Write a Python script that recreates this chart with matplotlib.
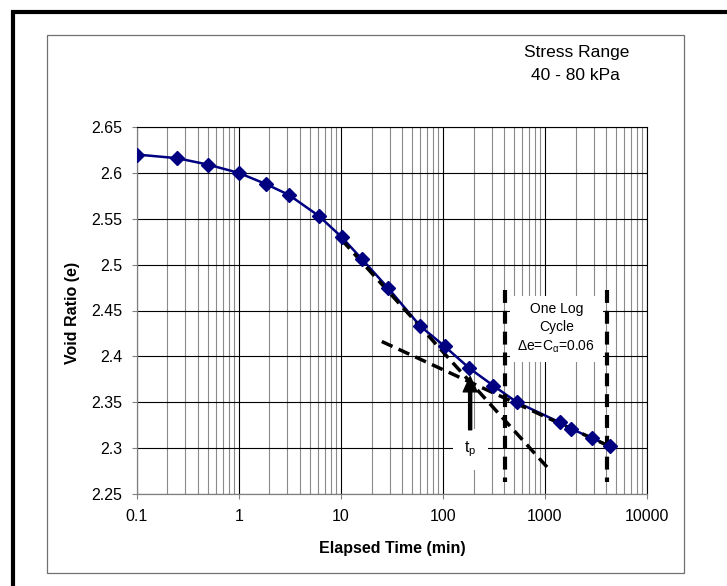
import numpy as np
import matplotlib
matplotlib.use("Agg")
from matplotlib import pyplot as plt
from matplotlib.patches import Rectangle
from matplotlib.ticker import LogLocator, NullFormatter, FixedLocator

plt.rcParams['font.family'] = ['Liberation Sans', 'DejaVu Sans']
plt.rcParams['mathtext.fontset'] = 'custom'
plt.rcParams['mathtext.rm'] = 'Liberation Sans'
plt.rcParams['mathtext.it'] = 'Liberation Sans'

# elapsed time (min) and void ratio
zeit = [0.1, 0.25, 0.5, 1.0, 1.83, 3.1, 6.1, 10.2, 16.1, 29.3, 60, 104, 182,
        313, 531, 1400, 1811, 2890, 4365]
porenzahl = [2.620, 2.616, 2.609, 2.600, 2.588, 2.576, 2.553, 2.530, 2.506,
             2.474, 2.433, 2.411, 2.387, 2.368, 2.350, 2.328, 2.321, 2.311,
             2.302]

# tangent lines (start / end)
primaer_t = [10.2, 1084]
primaer_e = [2.527, 2.2776]
sekundaer_t = [25.2, 4365]
sekundaer_e = [2.4162, 2.3016]

# one log cycle markers
zyklus_t = [408, 4083]
zyklus_e = [2.4725, 2.2634]

# t_p arrow
tp_t = 185
tp_pfeil_e = [2.320, 2.378]
tp_text_e = 2.2985

y_ticks = [2.25, 2.3, 2.35, 2.4, 2.45, 2.5, 2.55, 2.6, 2.65]
x_ticks = [0.1, 1, 10, 100, 1000, 10000]
x_labels = ['0.1', '1', '10', '100', '1000', '10000']

W, H = 727, 586
fig = plt.figure(figsize=(W / 100, H / 100), dpi=100)
ax = fig.add_axes([136.7 / W, 1 - 494 / H, (647 - 136.7) / W, (494 - 127) / H])

# frames around the chart
fig.patches.append(Rectangle((47.3 / W, 1 - 572.5 / H), (684 - 47.3) / W, (572.5 - 34.5) / H,
                             transform=fig.transFigure, fill=False, edgecolor='#707070',
                             linewidth=0.9))
fig.patches.append(Rectangle((12.5 / W, -0.2), 1.2, 1.2 - 11.5 / H,
                             transform=fig.transFigure, fill=False, edgecolor='black',
                             linewidth=3.0))

ax.set_xscale('log')
ax.set_xlim(0.1, 10000)
ax.set_ylim(2.25, 2.65)
ax.yaxis.set_major_locator(FixedLocator(y_ticks))
ax.set_yticklabels(['{:g}'.format(v) for v in y_ticks])
ax.xaxis.set_minor_locator(LogLocator(base=10, subs=np.arange(2, 10)))
ax.xaxis.set_minor_formatter(NullFormatter())
ax.set_xticks(x_ticks)
ax.set_xticklabels(x_labels)

ax.set_axisbelow(True)
ax.grid(True, which='major', axis='both', color='#000000', linewidth=0.8)
ax.grid(True, which='minor', axis='x', color='#8a8a8a', linewidth=0.8)

ax.tick_params(axis='both', which='major', direction='out', length=3.6, width=0.8,
               color='#808080', labelsize=11.5, labelcolor='black')
ax.tick_params(axis='y', pad=6.8)
ax.tick_params(axis='x', pad=7.5)
ax.tick_params(axis='x', which='minor', length=0)
for s in ['left', 'bottom']:
    ax.spines[s].set_color('#808080')
    ax.spines[s].set_linewidth(0.9)
for s in ['top', 'right']:
    ax.spines[s].set_color('#000000')
    ax.spines[s].set_linewidth(0.8)

# curve line
ax.plot(zeit, porenzahl, color='#000080', linewidth=1.8, zorder=3)

# dashed construction lines
ax.plot(primaer_t, primaer_e, color='black', linewidth=2.5, dashes=(3.4, 1.9), zorder=4)
ax.plot(sekundaer_t, sekundaer_e, color='black', linewidth=2.5, dashes=(3.4, 1.9), zorder=4)
for t in zyklus_t:
    ax.plot([t, t], zyklus_e, color='black', linewidth=3.0, dashes=(3.1, 1.9), zorder=4)

# markers on top
ax.plot(zeit, porenzahl, linestyle='none', marker='D', markersize=7,
        color='#000080', zorder=5)

# text boxes
ax.text(np.sqrt(zyklus_t[0] * zyklus_t[1]), 2.4305,
        'One Log\nCycle\n$\\Delta$e=C$_\\alpha$=0.06',
        ha='center', va='center', fontsize=10, linespacing=1.35, zorder=3.5,
        bbox=dict(boxstyle='square,pad=0.55', facecolor='white', edgecolor='none'))
ax.text(tp_t, tp_text_e, 't$_\\mathregular{p}$', ha='center', va='center', fontsize=11.5,
        zorder=3.5,
        bbox=dict(boxstyle='square,pad=0.7', facecolor='white', edgecolor='none'))
ax.annotate('', xy=(tp_t, tp_pfeil_e[1]), xytext=(tp_t, tp_pfeil_e[0]),
            arrowprops=dict(facecolor='black', edgecolor='black', width=2.2,
                            headwidth=10, headlength=11, shrink=0),
            zorder=6)

fig.text(392 / W, 1 - 548 / H, 'Elapsed Time (min)', ha='center', va='center',
         fontsize=11.5, fontweight='bold')
fig.text(72 / W, 1 - 313 / H, 'Void Ratio (e)', ha='center', va='center',
         rotation=90, fontsize=11.5, fontweight='bold')
fig.text(577 / W, 1 - 52 / H, 'Stress Range', ha='center', va='center', fontsize=12.5)
fig.text(575 / W, 1 - 75 / H, '40 - 80 kPa', ha='center', va='center', fontsize=12.5)

plt.savefig('out.png', dpi=100)
